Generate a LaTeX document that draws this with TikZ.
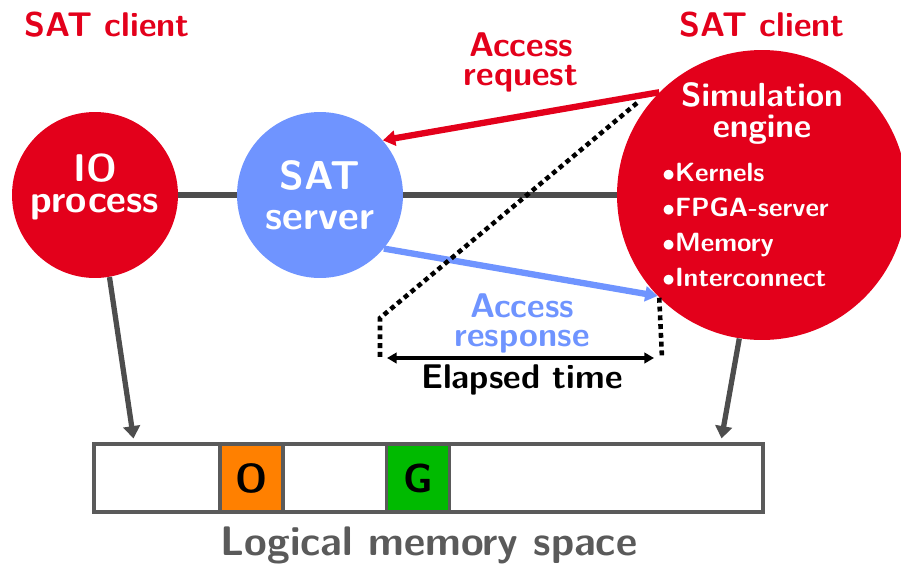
\documentclass[tikz,border=0pt]{standalone}
\usepackage{tikz}
\usetikzlibrary{arrows.meta, backgrounds}

\definecolor{satred}{RGB}{227,0,27}
\definecolor{satblue}{RGB}{111,148,255}
\definecolor{busgray}{RGB}{77,77,77}
\definecolor{memgray}{RGB}{90,90,90}
\definecolor{cellorange}{RGB}{255,128,0}
\definecolor{cellgreen}{RGB}{0,186,0}

\begin{document}
\begin{tikzpicture}[
    x=0.02cm, y=-0.02cm,
    clientcircle/.style={circle, fill=satred, inner sep=0pt},
    servercircle/.style={circle, fill=satblue, inner sep=0pt, minimum size=3.32cm},
    headline/.style={text=satred, inner sep=0pt, font=\sffamily\bfseries\fontsize{19.5}{16.5}\selectfont, align=center},
    circletext/.style={text=white, inner sep=0pt, anchor=north, align=center},
    bus/.style={draw=busgray, line width=3pt},
    reqarrow/.style={draw=satred, line width=3.6pt, -{Triangle[length=7pt, width=8.5pt]}},
    resparrow/.style={draw=satblue, line width=3.6pt, -{Triangle[length=7pt, width=8.5pt]}},
    memarrow/.style={draw=busgray, line width=3pt, -{Triangle[length=7pt, width=9.5pt]}},
    guide/.style={line width=2.6pt, dash pattern=on 2.8pt off 2.2pt},
    timearrow/.style={line width=1.8pt, {Triangle[length=5.5pt, width=6pt]}-{Triangle[length=5.5pt, width=6pt]}},
    cell/.style={rectangle, draw=memgray, line width=1.8pt, minimum height=1.36cm, inner sep=0pt, font=\sffamily\bfseries\fontsize{23}{23}\selectfont}
]
\useasboundingbox (0,0) rectangle (901,565);

% Nodes
\node (clientleft) [headline, anchor=base] at (107,36) {SAT client};
\node (clientright) [headline, anchor=base] at (762,36) {SAT client};

\node (ioproc) [clientcircle, minimum size=3.32cm] at (95,195) {};
\node (satserver) [servercircle] at (320,195) {};
\node (simengine) [clientcircle, minimum size=5.8cm] at (762,195) {};

\node (iotext) [circletext, font=\sffamily\bfseries\fontsize{22}{18}\selectfont] at (95,153) {IO\\process};
\node (servertext) [circletext, font=\sffamily\bfseries\fontsize{23}{22.7}\selectfont] at (320,160) {SAT\\server};
\node (simtitle) [circletext, font=\sffamily\bfseries\fontsize{19}{18}\selectfont] at (762,82) {Simulation\\engine};
\node (simlist) [circletext, anchor=north west, align=left, font=\sffamily\bfseries\fontsize{15}{19.8}\selectfont] at (662,163) {$\bullet$Kernels\\$\bullet$FPGA-server\\$\bullet$Memory\\$\bullet$Interconnect};

\node (reqlabel) [headline, anchor=north] at (521,32) {Access\\request};
\node (resplabel) [headline, anchor=north, text=satblue] at (522,293) {Access\\response};
\node (elapsed) [headline, anchor=base, text=black] at (522,388) {Elapsed time};

\node (memory) [cell, minimum width=13.38cm] at (428.5,478) {};
\node (ocell) [cell, fill=cellorange, minimum width=1.26cm] at (251.5,478) {O};
\node (gcell) [cell, fill=cellgreen, minimum width=1.26cm] at (418,478) {G};
\node (memlabel) [anchor=base, inner sep=0pt, text=memgray, font=\sffamily\bfseries\fontsize{23.5}{23.5}\selectfont] at (429,555) {Logical memory space};

\coordinate (reqmark) at (637,103);
\coordinate (bendmark) at (380,318);
\coordinate (tleft) at (380,358);
\coordinate (tright) at (662,358);

% Arrows
\begin{scope}[on background layer]
\draw [bus] (ioproc) -- (simengine);
\end{scope}
\draw [reqarrow] (simengine.135.5) -- (satserver.41);
\draw [resparrow] (satserver.-40) -- (simengine.-136);
\draw [memarrow] (ioproc.-80) -- ([xshift=0.82cm, yshift=0.08cm]memory.north west);
\draw [memarrow] (simengine.-99) -- ([xshift=-0.86cm, yshift=0.08cm]memory.north east);
\draw [guide] (reqmark) -- (bendmark) -- (tleft);
\draw [guide] (simengine.-135) -- (tright);
\draw [timearrow] ([xshift=0.14cm]tleft) -- ([xshift=-0.16cm]tright);

\end{tikzpicture}
\end{document}
